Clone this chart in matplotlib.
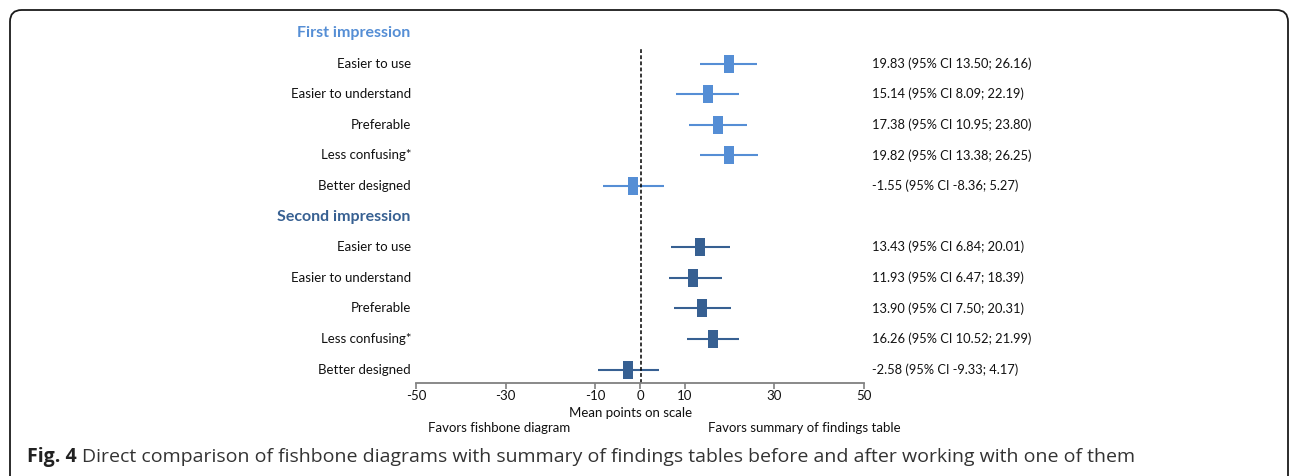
import matplotlib.pyplot as plt
from matplotlib.patches import FancyBboxPatch

# data
labels = ["Easier to use", "Easier to understand", "Preferable",
          "Less confusing*", "Better designed"]
first_mean = [19.83, 15.14, 17.38, 19.82, -1.55]
first_lo = [13.50, 8.09, 10.95, 13.38, -8.36]
first_hi = [26.16, 22.19, 23.80, 26.25, 5.27]
second_mean = [13.43, 11.93, 13.90, 16.26, -2.58]
second_lo = [6.84, 6.47, 7.50, 10.52, -9.33]
second_hi = [20.01, 18.39, 20.31, 21.99, 4.17]
ticks = [-50, -30, -10, 0, 10, 30, 50]

light = '#558ED5'
dark = '#376092'
W, H = 1290, 476
plt.rcParams['font.family'] = ['Lato', 'DejaVu Sans']
plt.rcParams['axes.unicode_minus'] = False

fig = plt.figure(figsize=(W / 100, H / 100), dpi=100)

# frame with rounded corners, running off the bottom edge
frame = FancyBboxPatch((10 / W, -20 / H), 1278 / W, (H - 10 + 20) / H,
                       boxstyle="round,pad=0,rounding_size=0.009",
                       transform=fig.transFigure, fill=False,
                       edgecolor='#1a1a1a', linewidth=1.3, mutation_aspect=W / H)
fig.patches.append(frame)

# row pitch in pixels, header of first group at y=33 px
row0, pitch = 33, 30.6
ax_top, ax_bot = 48, 383
ax = fig.add_axes([416 / W, 1 - ax_bot / H, 448 / W, (ax_bot - ax_top) / H])
ax.set_xlim(-50, 50)
ax.set_ylim((ax_bot - row0) / pitch, (ax_top - row0) / pitch)

box = [(-0.3, -0.5), (0.3, -0.5), (0.3, 0.5), (-0.3, 0.5), (-0.3, -0.5)]


def group(start, title, mean, lo, hi, color):
    ax.text(-51.2, start, title, ha='right', va='center', fontsize=11.5,
            fontweight='bold', color=color, clip_on=False)
    ys = [start + 1 + i for i in range(len(mean))]
    ax.hlines(ys, lo, hi, color=color, linewidth=1.5)
    ax.plot(mean, ys, linestyle='none', marker=box, markersize=12.5,
            markerfacecolor=color, markeredgewidth=0)
    for y, lab, m, l, h in zip(ys, labels, mean, lo, hi):
        ax.text(-51.1, y, lab, ha='right', va='center', fontsize=9.5,
                color='#111111', clip_on=False)
        ax.text(51.8, y, '%.2f (95%% CI %.2f; %.2f)' % (m, l, h),
                ha='left', va='center', fontsize=9.3, color='#111111',
                clip_on=False)


group(0, "First impression", first_mean, first_lo, first_hi, light)
group(6, "Second impression", second_mean, second_lo, second_hi, dark)

ax.axvline(0.3, color='black', linestyle=(0, (2.5, 1.5)), linewidth=1.1)

for s in ['top', 'left', 'right']:
    ax.spines[s].set_visible(False)
ax.spines['bottom'].set_color('#808080')
ax.spines['bottom'].set_linewidth(1.3)
ax.set_yticks([])
ax.set_xticks(ticks)
ax.tick_params(axis='x', direction='out', length=4, width=1.2, color='#808080',
               labelsize=9.5, labelcolor='#111111', pad=1)

fig.text(631 / W, 1 - 413 / H, 'Mean points on scale', ha='center', va='center',
         fontsize=9.5, color='#111111')
fig.text(499 / W, 1 - 428 / H, 'Favors fishbone diagram', ha='center', va='center',
         fontsize=9.5, color='#111111')
fig.text(804 / W, 1 - 428 / H, 'Favors summary of findings table', ha='center',
         va='center', fontsize=9.5, color='#111111')

cap = fig.text(27 / W, 1 - 457 / H, 'Fig. 4', ha='left', va='center',
               fontsize=14, fontweight='bold', color='#222222',
               family=['Open Sans', 'DejaVu Sans'])
fig.canvas.draw()
bb = cap.get_window_extent()
fig.text((bb.x1 + 5) / W, 1 - 457 / H,
         'Direct comparison of fishbone diagrams with summary of findings tables '
         'before and after working with one of them',
         ha='left', va='center', fontsize=14, color='#333333',
         family=['Open Sans', 'DejaVu Sans'])

fig.savefig('out.png', dpi=100)
